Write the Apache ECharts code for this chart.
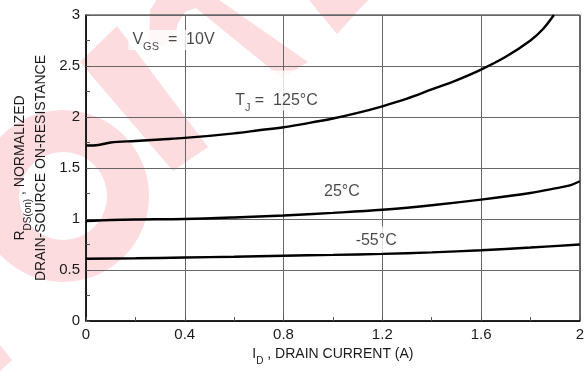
<!DOCTYPE html>
<html>
<head>
<meta charset="utf-8">
<script src="https://cdn.jsdelivr.net/npm/echarts@6/dist/echarts.min.js"></script>
<style>
  html, body { margin: 0; padding: 0; background: #fff; }
  #chart { width: 587px; height: 371px; }
</style>
</head>
<body>
<div id="chart"></div>
<script>
// Normalized on-resistance versus drain current, one curve per junction temperature
const currentHot  = [0, 0.05, 0.1, 0.2, 0.3, 0.4, 0.5, 0.6, 0.7, 0.8, 0.9, 1.0, 1.1, 1.2, 1.3, 1.4, 1.5, 1.6, 1.7, 1.8, 1.85, 1.895];
const rdsHot      = [1.72, 1.725, 1.75, 1.765, 1.78, 1.795, 1.815, 1.84, 1.87, 1.90, 1.94, 1.985, 2.04, 2.105, 2.18, 2.27, 2.36, 2.465, 2.59, 2.75, 2.86, 3.0];
const currentRoom = [0, 0.05, 0.1, 0.2, 0.4, 0.6, 0.8, 1.0, 1.2, 1.4, 1.6, 1.8, 1.9, 1.96, 2.0];
const rdsRoom     = [0.98, 0.985, 0.99, 0.995, 1.0, 1.015, 1.035, 1.06, 1.09, 1.135, 1.19, 1.255, 1.30, 1.33, 1.37];
const currentCold = [0, 0.2, 0.4, 0.6, 0.8, 1.0, 1.2, 1.4, 1.6, 1.8, 2.0];
const rdsCold     = [0.61, 0.615, 0.622, 0.63, 0.64, 0.648, 0.658, 0.673, 0.693, 0.72, 0.75];

const xTicks = [0, 0.4, 0.8, 1.2, 1.6, 2];
const yTicks = [0, 0.5, 1, 1.5, 2, 2.5, 3];

// In-plot notes, anchored in data units (left edge of text, middle of main text line)
const noteText = [
  '{a|V}{sub|GS}{a|  =  10V}',
  '{a|T}{sub|J}{a| =  125°C}',
  '{a|25°C}',
  '{a|-55°C}'
];
const noteX = [0.188, 0.604, 0.964, 1.092];
const noteY = [2.78, 2.187, 1.268, 0.787];

const FONT = '"Liberation Sans", Arial, Helvetica, sans-serif';
const INK = '#1a1a1a';

const pairs = (xs, ys) => xs.map((x, i) => [x, ys[i]]);

const richMain = {
  a:   { fontSize: 16, lineHeight: 16, verticalAlign: 'top', color: INK, fontFamily: FONT },
  sub: { fontSize: 11, lineHeight: 11, verticalAlign: 'top', padding: [10, 0, 0, 0], color: INK, fontFamily: FONT }
};
// per-note label box (padding) and the vertical shift that keeps the main text line on the anchor
const noteBox = [
  { padding: [2, 4, 2, 4],  offset: [-4, 2.5] },
  { padding: [22, 4, 2, 4], offset: [-4, -7.5] },
  { padding: [6, 4, 6, 4],  offset: [-4, 0] },
  { padding: [6, 4, 6, 4],  offset: [-4, 0] }
];

const curveStyle = { color: '#000', width: 2.4 };
const mkCurve = (data) => ({
  type: 'line', data, smooth: 0.35, showSymbol: false, symbol: 'none',
  lineStyle: curveStyle, silent: true, z: 4
});

const PINK = '#fcdcde';
const chart = echarts.init(document.getElementById('chart'), null, { renderer: 'canvas' });

chart.setOption({
  animation: false,
  backgroundColor: '#fff',
  graphic: [
    { type: 'ring', z: -1, silent: true, shape: { cx: 63, cy: 196, r: 86, r0: 44 }, style: { fill: PINK } },
    { type: 'polygon', z: -1, silent: true, shape: { points: [[80, 62], [117, 26], [208, 147], [173, 171]] }, style: { fill: PINK } },
    { type: 'polygon', z: -1, silent: true, shape: { points: [[149, 48], [176, 42], [177, 25], [185, 12], [196, 8], [282, 78], [308, 62], [212, -5], [190, -10], [160, -5], [150, 10]] }, style: { fill: PINK } },
    { type: 'polygon', z: -1, silent: true, shape: { points: [[309, 0], [337, 34], [368, 0]] }, style: { fill: PINK } },
    { type: 'polygon', z: -1, silent: true, shape: { points: [[0, 345], [12, 360], [0, 371]] }, style: { fill: PINK } }
  ],
  grid: {
    left: 86, right: 1, top: 15, bottom: 46,
    show: true, borderColor: '#222', borderWidth: 1, backgroundColor: 'transparent'
  },
  xAxis: {
    type: 'value',
    min: xTicks[0], max: xTicks[xTicks.length - 1], interval: xTicks[1] - xTicks[0],
    axisLine: { show: true, onZero: false, lineStyle: { color: '#000', width: 1.5 } },
    axisTick: { show: true, inside: true, length: 4, lineStyle: { color: '#555' } },
    minorTick: { show: true, splitNumber: 2, length: 4, lineStyle: { color: '#555' } },
    splitLine: { show: true, lineStyle: { color: '#666', width: 1 } },
    axisLabel: { color: INK, fontSize: 15, fontFamily: FONT, margin: 6 },
    name: '{a|I}{sub|D}{a| , DRAIN CURRENT (A)}',
    nameLocation: 'middle', nameGap: 26,
    nameTextStyle: {
      rich: {
        a:   { fontSize: 14, lineHeight: 16, verticalAlign: 'top', color: INK, fontFamily: FONT },
        sub: { fontSize: 10, lineHeight: 10, verticalAlign: 'top', padding: [9, 0, 0, 0], color: INK, fontFamily: FONT }
      }
    }
  },
  yAxis: {
    type: 'value',
    min: yTicks[0], max: yTicks[yTicks.length - 1], interval: yTicks[1] - yTicks[0],
    axisLine: { show: true, onZero: false, lineStyle: { color: '#000', width: 1.5 } },
    axisTick: { show: true, inside: true, length: 4, lineStyle: { color: '#555' } },
    minorTick: { show: true, splitNumber: 2, length: 4, lineStyle: { color: '#555' } },
    splitLine: { show: true, lineStyle: { color: '#666', width: 1 } },
    axisLabel: { color: INK, fontSize: 15, fontFamily: FONT, margin: 6 },
    name: '{a|R}{sub|DS(on)}{a| , NORMALIZED}\n{b|DRAIN-SOURCE ON-RESISTANCE}',
    nameLocation: 'middle', nameRotate: 90, nameGap: 33,
    nameTextStyle: {
      align: 'center',
      rich: {
        a:   { fontSize: 14, lineHeight: 16, verticalAlign: 'top', color: INK, fontFamily: FONT },
        sub: { fontSize: 10, lineHeight: 10, verticalAlign: 'top', padding: [10, 0, 0, 0], color: INK, fontFamily: FONT },
        b:   { fontSize: 14, lineHeight: 24, color: INK, fontFamily: FONT }
      }
    }
  },
  series: [
    mkCurve(pairs(currentHot, rdsHot)),
    mkCurve(pairs(currentRoom, rdsRoom)),
    mkCurve(pairs(currentCold, rdsCold)),
    {
      type: 'scatter', silent: true, z: 3, symbolSize: 0,
      data: noteText.map((t, i) => ({
        value: [noteX[i], noteY[i]],
        label: {
          show: true, position: 'right', distance: 0,
          formatter: t, backgroundColor: '#fff',
          padding: noteBox[i].padding, offset: noteBox[i].offset,
          rich: richMain
        }
      }))
    }
  ]
});
</script>
</body>
</html>
